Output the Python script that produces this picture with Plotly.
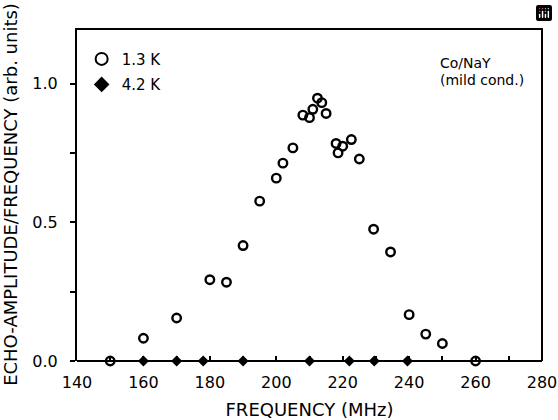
import plotly.graph_objects as go

freq_13K = [150, 160, 170, 180, 185, 190, 195, 200, 202, 205, 208, 210, 211, 212.4, 213.7, 215,
            218, 218.6, 220, 222.6, 225, 229.3, 234.4, 240, 245, 250, 260]
amp_13K = [0.0, 0.082, 0.155, 0.293, 0.284, 0.416, 0.576, 0.659, 0.713, 0.768, 0.886, 0.877, 0.907,
           0.947, 0.931, 0.892, 0.784, 0.750, 0.774, 0.798, 0.728, 0.475, 0.393, 0.167, 0.097, 0.063, 0.0]

freq_42K = [160, 170, 178, 190, 210, 222, 229.5, 239.5]
amp_42K = [0, 0, 0, 0, 0, 0, 0, 0]

x_tickvals = list(range(140, 290, 10))
x_ticktext = [str(v) if v % 20 == 0 else "" for v in x_tickvals]
y_tickvals = [0, 0.25, 0.5, 0.75, 1.0]
y_ticktext = ["0.0", "", "0.5", "", "1.0"]

FONT = "DejaVu Sans, Liberation Sans, sans-serif"

fig = go.Figure()
fig.add_trace(go.Scatter(
    x=freq_13K, y=amp_13K, mode="markers", name="1.3 K", legendgroup="a",
    marker=dict(symbol="circle-open", size=8.5, color="black", line=dict(width=2.4, color="black")),
    cliponaxis=False))
fig.add_trace(go.Scatter(
    x=freq_42K, y=amp_42K, mode="markers", name="4.2 K", legendgroup="b",
    marker=dict(symbol="diamond", size=8.5, color="black"),
    cliponaxis=False))

fig.add_annotation(x=(438 - 77) / 465, y=0.894, xref="paper", yref="paper", xanchor="left", yanchor="middle",
                   text="Co/NaY", showarrow=False, font=dict(family=FONT, size=14, color="black"))
fig.add_annotation(x=(438 - 77) / 465, y=0.845, xref="paper", yref="paper", xanchor="left", yanchor="middle",
                   text="(mild cond.)", showarrow=False, font=dict(family=FONT, size=14, color="black"))

# frame: bottom and right as line shapes, top as a thin filled strip (left is the y-axis line)
fig.add_shape(type="line", xref="paper", yref="paper", x0=0, x1=1, y0=0, y1=0,
              line=dict(color="black", width=2))
fig.add_shape(type="line", xref="paper", yref="paper", x0=1, x1=1, y0=0, y1=1,
              line=dict(color="#000000", width=2))
fig.add_shape(type="rect", xref="paper", yref="paper", x0=0, x1=1, y0=0.994, y1=1.0,
              line=dict(width=0), fillcolor="black")

fig.update_layout(
    width=558, height=420,
    margin=dict(l=77, r=16, t=28, b=59),
    paper_bgcolor="white", plot_bgcolor="white",
    font=dict(family=FONT, size=16, color="black"),
    showlegend=True,
    modebar=dict(bgcolor="rgba(0,0,0,0)", color="rgba(0,0,0,0)", activecolor="rgba(0,0,0,0)"),
    legend=dict(x=0.01, y=0.956, xanchor="left", yanchor="top", bgcolor="rgba(0,0,0,0)",
                font=dict(family=FONT, size=15, color="black"), itemsizing="constant",
                traceorder="grouped", tracegroupgap=3),
    xaxis=dict(range=[140, 280], tickvals=x_tickvals, ticktext=x_ticktext,
               ticks="inside", ticklen=5, tickwidth=1.5, tickcolor="black",
               showline=False, showgrid=False, zeroline=False, automargin=False, ticklabelstandoff=10,
               tickfont=dict(family=FONT, size=16),
               title=dict(text="FREQUENCY (MHz)", font=dict(family=FONT, size=18), standoff=12)),
    yaxis=dict(range=[0, 1.2], tickvals=y_tickvals, ticktext=y_ticktext,
               ticks="outside", ticklen=5, tickwidth=1.5, tickcolor="black",
               showline=True, linewidth=2, linecolor="black", mirror=False,
               showgrid=False, zeroline=False, automargin=False, ticklabelstandoff=9,
               tickfont=dict(family=FONT, size=16),
               title=dict(text="ECHO-AMPLITUDE/FREQUENCY (arb. units)", font=dict(family=FONT, size=18), standoff=10)),
)

fig.write_html("out.html", post_script="document.body.style.margin='0px';")
